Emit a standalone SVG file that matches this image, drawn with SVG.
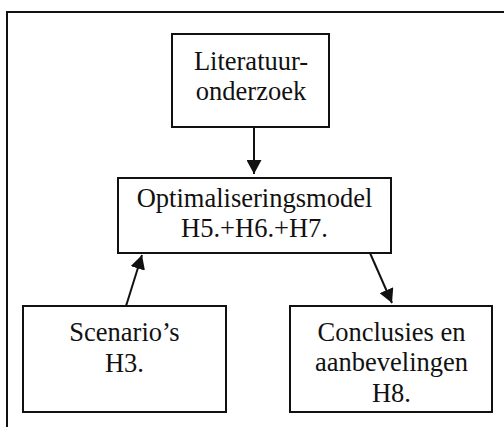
<svg xmlns="http://www.w3.org/2000/svg" width="504" height="427" viewBox="0 0 504 427">
  <style>
    .box { fill: #fff; stroke: #111; stroke-width: 2; }
    .lbl { font-family: "Liberation Serif", "Times New Roman", serif; font-size: 26.5px; fill: #111; text-anchor: middle; }
    .edge { stroke: #111; stroke-width: 2; fill: none; marker-end: url(#head); }
  </style>
  <defs>
    <marker id="head" viewBox="0 0 14 15" refX="14" refY="7.5" markerWidth="14" markerHeight="15" markerUnits="userSpaceOnUse" orient="auto">
      <path d="M0,0 L14,7.5 L0,15 Z" fill="#111"/>
    </marker>
  </defs>
  <rect width="504" height="427" fill="#fff"/>
  <!-- outer frame, running off the right and bottom edges -->
  <rect x="7" y="12" width="510" height="430" fill="none" stroke="#111" stroke-width="2"/>

  <g id="connectors">
    <line class="edge" x1="254" y1="127" x2="254" y2="174"/>
    <line class="edge" x1="126" y1="306" x2="142" y2="255"/>
    <line class="edge" x1="370" y1="253" x2="392" y2="303"/>
  </g>

  <g id="literatuuronderzoek">
    <rect class="box" x="172" y="34" width="157" height="93"/>
    <text class="lbl" x="251" y="70">Literatuur-</text>
    <text class="lbl" x="251" y="100">onderzoek</text>
  </g>

  <g id="optimaliseringsmodel">
    <rect class="box" x="118" y="178" width="273" height="75"/>
    <text class="lbl" x="254.5" y="207">Optimaliseringsmodel</text>
    <text class="lbl" x="254.5" y="237">H5.+H6.+H7.</text>
  </g>

  <g id="scenarios">
    <rect class="box" x="23" y="306" width="203" height="106"/>
    <text class="lbl" x="124.5" y="341">Scenario’s</text>
    <text class="lbl" x="124.5" y="372">H3.</text>
  </g>

  <g id="conclusies">
    <rect class="box" x="290" y="306" width="202" height="106"/>
    <text class="lbl" x="391.5" y="341">Conclusies en</text>
    <text class="lbl" x="391.5" y="371">aanbevelingen</text>
    <text class="lbl" x="391.5" y="402">H8.</text>
  </g>
</svg>
